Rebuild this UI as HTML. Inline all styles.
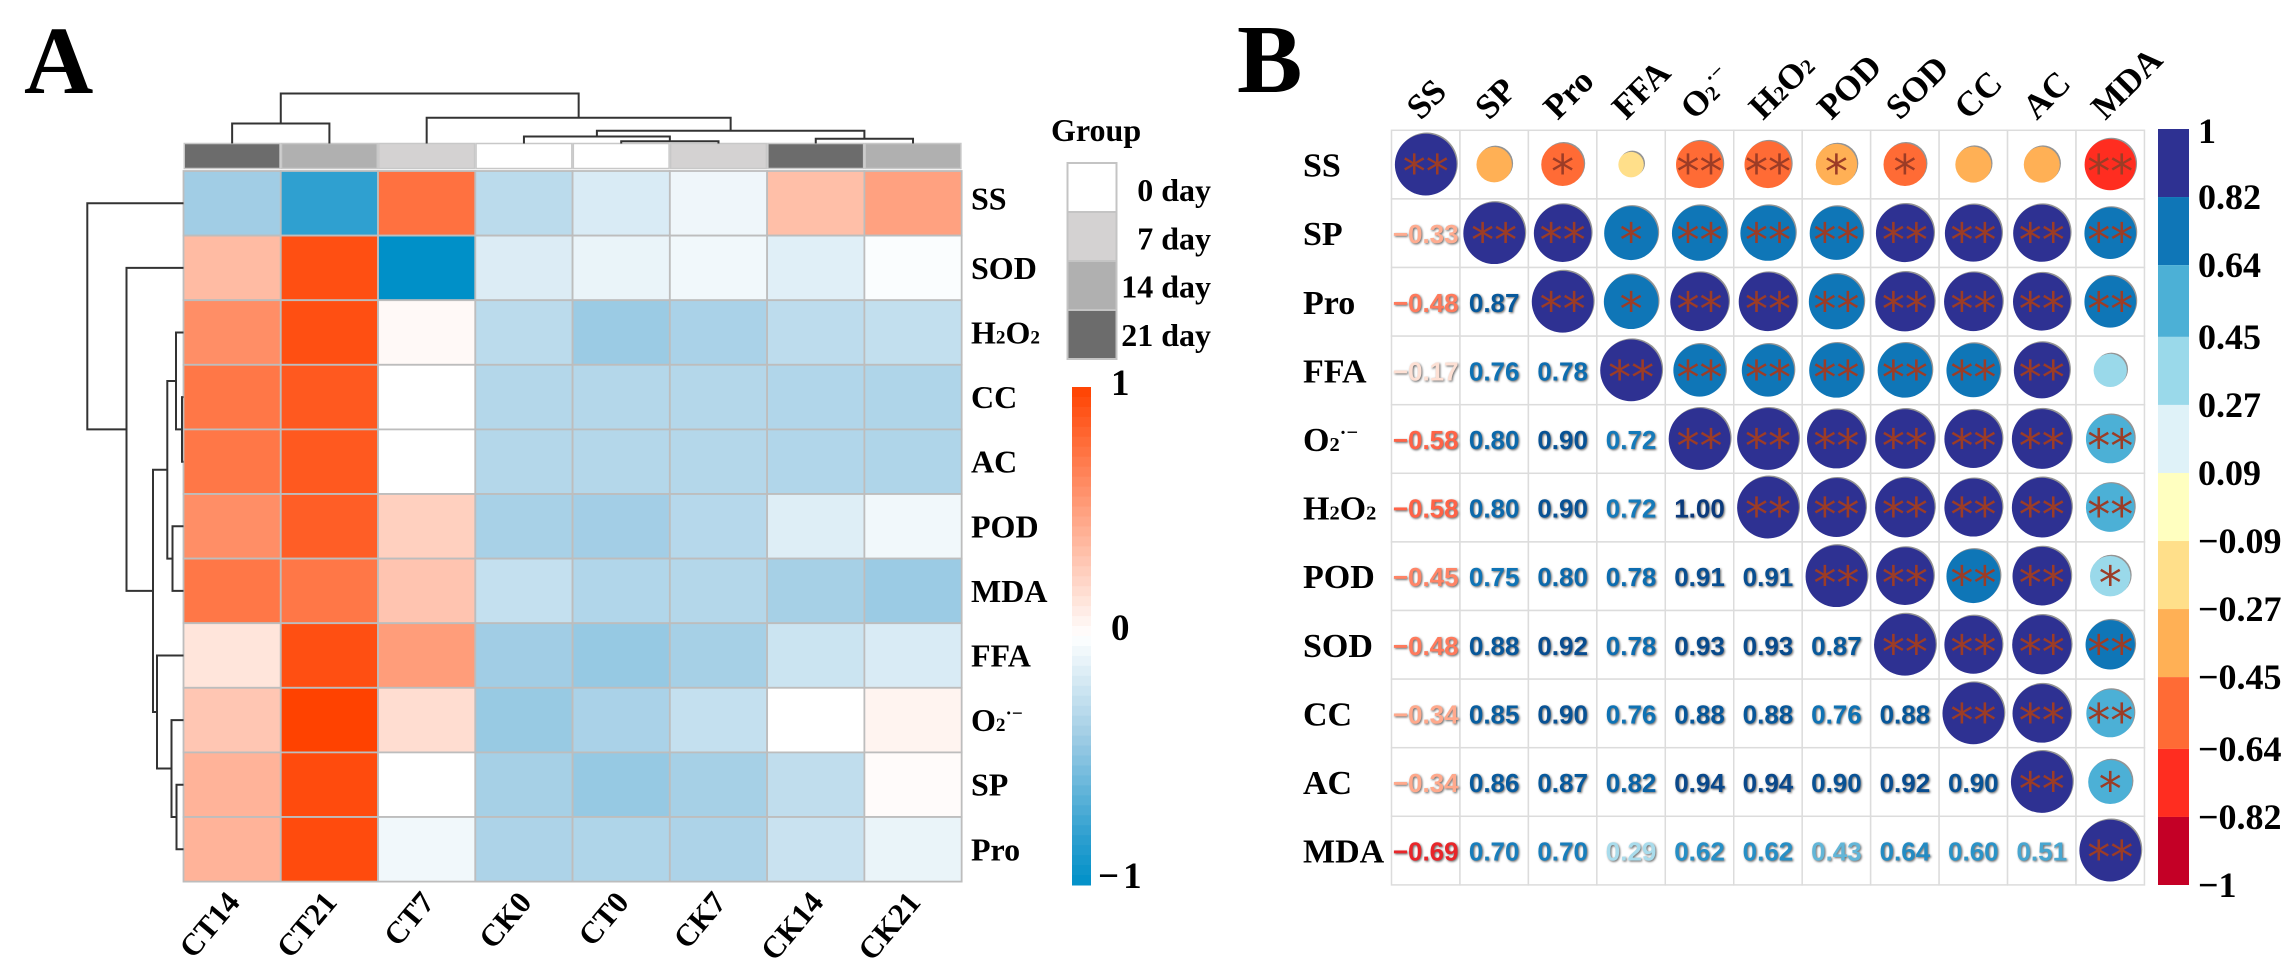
<!DOCTYPE html>
<html lang="en">
<head>
<meta charset="utf-8">
<title>Heatmap and correlation matrix</title>
<style>
html,body{margin:0;padding:0;background:#fff;}
svg{display:block;}
text{font-family:"Liberation Serif",serif;font-weight:bold;fill:#000;}
.num{font-family:"Liberation Sans",sans-serif;font-size:26px;}
.star{font-family:"DejaVu Sans",sans-serif;font-weight:normal;font-size:46px;fill:#9c3c26;}
</style>
</head>
<body>
<svg id="figure" xmlns="http://www.w3.org/2000/svg" width="2293" height="977" viewBox="0 0 2293 977">
<rect x="0" y="0" width="2293" height="977" fill="#fff"/>
<text x="24" y="93" font-size="96">A</text>
<text x="1237" y="92" font-size="98">B</text>
<text x="1051" y="141" font-size="32">Group</text>
<g id="panelA"></g>
<g id="panelB"></g>
</svg>
<script>
// ---------- Panel A data ----------
const heatCols = ['CT14','CT21','CT7','CK0','CT0','CK7','CK14','CK21'];
const heatRows = ['SS','SOD','H2O2','CC','AC','POD','MDA','FFA','O2','SP','Pro'];
const colGroups = [21,14,7,0,0,7,21,14];
const heatSS   = [-0.40,-0.80, 0.75,-0.29,-0.16,-0.07, 0.34, 0.50];
const heatSOD  = [ 0.36, 0.93,-1.00,-0.15,-0.09,-0.06,-0.13,-0.02];
const heatH2O2 = [ 0.60, 0.93, 0.03,-0.29,-0.42,-0.36,-0.28,-0.26];
const heatCC   = [ 0.72, 0.88, 0.00,-0.32,-0.32,-0.32,-0.33,-0.34];
const heatAC   = [ 0.72, 0.88, 0.00,-0.32,-0.32,-0.32,-0.33,-0.34];
const heatPOD  = [ 0.60, 0.85, 0.25,-0.37,-0.39,-0.31,-0.14,-0.06];
const heatMDA  = [ 0.72, 0.72, 0.31,-0.25,-0.33,-0.32,-0.38,-0.42];
const heatFFA  = [ 0.14, 0.93, 0.52,-0.40,-0.44,-0.38,-0.22,-0.16];
const heatO2   = [ 0.30, 1.00, 0.18,-0.43,-0.36,-0.25, 0.00, 0.06];
const heatSP   = [ 0.40, 0.95, 0.00,-0.38,-0.44,-0.38,-0.27, 0.02];
const heatPro  = [ 0.40, 0.95,-0.06,-0.35,-0.34,-0.35,-0.23,-0.09];
const heatValues = [heatSS,heatSOD,heatH2O2,heatCC,heatAC,heatPOD,heatMDA,heatFFA,heatO2,heatSP,heatPro];
const groupLevels = [0,7,14,21];
const groupShades = ['#ffffff','#d4d2d2','#b0b0b0','#6c6c6c'];
const heatBarTicks = [1,0,-1];
// dendrogram merges: [child a, child b, height]; child >=0 = leaf index, child <0 = earlier merge ~index
const colMerges = [[0,1,20],[4,5,2.3],[3,-2,7],[6,7,4.7],[-3,-4,12.7],[2,-5,25.7],[-1,-6,50]];
const rowMerges = [[3,4,1.5],[2,-1,7.5],[5,6,11],[-2,-3,16.2],[9,10,7],[8,-5,12],[7,-6,26.5],[-4,-7,30.5],[1,-8,57],[0,-9,96.2]];

// ---------- Panel B data ----------
const corrVars = ['SS','SP','Pro','FFA','O2','H2O2','POD','SOD','CC','AC','MDA'];
const corrSS   = [1];
const corrSP   = [-0.33,1];
const corrPro  = [-0.48,0.87,1];
const corrFFA  = [-0.17,0.76,0.78,1];
const corrO2   = [-0.58,0.80,0.90,0.72,1];
const corrH2O2 = [-0.58,0.80,0.90,0.72,1.00,1];
const corrPOD  = [-0.45,0.75,0.80,0.78,0.91,0.91,1];
const corrSOD  = [-0.48,0.88,0.92,0.78,0.93,0.93,0.87,1];
const corrCC   = [-0.34,0.85,0.90,0.76,0.88,0.88,0.76,0.88,1];
const corrAC   = [-0.34,0.86,0.87,0.82,0.94,0.94,0.90,0.92,0.90,1];
const corrMDA  = [-0.69,0.70,0.70,0.29,0.62,0.62,0.43,0.64,0.60,0.51,1];
const corrLower = [corrSS,corrSP,corrPro,corrFFA,corrO2,corrH2O2,corrPOD,corrSOD,corrCC,corrAC,corrMDA];
// number of significance stars, upper triangle, one array per row starting at the diagonal
const starsSS   = [2,0,1,0,2,2,1,1,0,0,2];
const starsSP   = [2,2,1,2,2,2,2,2,2,2];
const starsPro  = [2,1,2,2,2,2,2,2,2];
const starsFFA  = [2,2,2,2,2,2,2,0];
const starsO2   = [2,2,2,2,2,2,2];
const starsH2O2 = [2,2,2,2,2,2];
const starsPOD  = [2,2,2,2,1];
const starsSOD  = [2,2,2,2];
const starsCC   = [2,2,2];
const starsAC   = [2,1];
const starsMDA  = [2];
const corrStars = [starsSS,starsSP,starsPro,starsFFA,starsO2,starsH2O2,starsPOD,starsSOD,starsCC,starsAC,starsMDA];
const corrBreaks = [1,0.82,0.64,0.45,0.27,0.09,-0.09,-0.27,-0.45,-0.64,-0.82,-1];
const corrPalette = ['#2e3192','#0f76b7','#4cb0d6','#9ad9ea','#dff2f8','#ffffc0','#ffdf8a','#ffb055','#ff6b35','#ff2d20','#c40026'];

// ---------- helpers ----------
const NS = 'http://www.w3.org/2000/svg';
function mk(tag, attrs, parent){
  const el = document.createElementNS(NS, tag);
  for (const k in attrs) el.setAttribute(k, attrs[k]);
  parent.appendChild(el);
  return el;
}
function lerp(a,b,t){return a+(b-a)*t;}
function rampColor(stops, v){
  if (v<=stops[0][0]) return 'rgb('+stops[0][1].join(',')+')';
  for (let i=0;i<stops.length-1;i++){
    const a=stops[i], b=stops[i+1];
    if (v<=b[0]){
      const t=(v-a[0])/(b[0]-a[0]);
      return 'rgb('+[0,1,2].map(c=>Math.round(lerp(a[1][c],b[1][c],t))).join(',')+')';
    }
  }
  return 'rgb('+stops[stops.length-1][1].join(',')+')';
}
const heatStops = [[-1,[0,144,200]],[-0.8,[47,160,208]],[-0.4,[161,205,229]],[0,[255,255,255]],[1,[255,66,0]]];
function heatColor(v){ return rampColor(heatStops,v); }
const numStops = [[-0.69,[232,38,42]],[-0.58,[255,99,71]],[-0.48,[255,122,92]],[-0.34,[255,169,140]],[-0.17,[253,224,212]],[0,[255,255,255]],[0.29,[169,220,236]],[0.43,[98,182,216]],[0.6,[42,147,200]],[0.75,[15,116,182]],[0.87,[7,89,156]],[1,[10,58,124]]];
function numColor(v){ return rampColor(numStops,v); }
function labelSegments(el, name){
  const add = (txt, small, dy) => {
    const t = document.createElementNS(NS,'tspan');
    t.textContent = txt;
    if (small) t.setAttribute('font-size', small);
    if (dy) t.setAttribute('dy', dy);
    el.appendChild(t);
  };
  const fs = parseFloat(el.getAttribute('font-size'));
  const sm = fs*0.6;
  if (name==='H2O2'){ add('H'); add('2',sm); add('O'); add('2',sm); }
  else if (name==='O2'){ add('O'); add('2',sm); add('·−',sm,-fs*0.36); }
  else add(name);
}

// ---------- Panel A scales ----------
const panelA = document.getElementById('panelA');
const hX0 = 183.5, hCW = 97.27, hY0 = 171, hRH = 64.6;
const annTop = 143.5, annH = 25;
const hx = i => hX0 + i*hCW;
const hy = i => hY0 + i*hRH;
const colCenter = i => hx(i)+hCW/2;
const rowCenter = i => hy(i)+hRH/2;
const colHeightY = h => annTop - h;
const rowHeightX = h => hX0 - h;

// annotation bar
colGroups.forEach((g,i)=>{
  const r = mk('rect',{x:hx(i)+0.75,y:annTop,width:hCW-1.5,height:annH,fill:groupShades[groupLevels.indexOf(g)],stroke:'#c8c8c8','stroke-width':1.5},panelA);
  
  
});
// cells
heatValues.forEach((row,r)=>{
  row.forEach((v,c)=>{
    const cell = mk('rect',{x:hx(c),y:hy(r),width:hCW,height:hRH,fill:heatColor(v),stroke:'#bdbdbd','stroke-width':1.8},panelA);
    
    
  });
});
// row labels
heatRows.forEach((name,r)=>{
  const t = mk('text',{x:971,y:rowCenter(r)+(r===0?6:11),'font-size':32},panelA);
  
  
  labelSegments(t,name);
});
// col labels
heatCols.forEach((name,c)=>{
  const x = colCenter(c)+9, y = 903;
  const t = mk('text',{x:x,y:y,'font-size':31,'text-anchor':'end',transform:'rotate(-50 '+x+' '+y+')'},panelA);
  
  
  t.textContent = name;
});
// dendrograms
function drawDendro(merges, leafPos, heightPos, vertical, name){
  const nodes = [];
  const resolve = ch => ch>=0 ? {pos:leafPos(ch),h:0} : nodes[-ch-1];
  merges.forEach((m,i)=>{
    const a=resolve(m[0]), b=resolve(m[1]), h=m[2];
    const H=heightPos(h), Ha=heightPos(a.h), Hb=heightPos(b.h);
    const d = vertical
      ? 'M'+a.pos+' '+Ha+'V'+H+'H'+b.pos+'V'+Hb
      : 'M'+Ha+' '+a.pos+'H'+H+'V'+b.pos+'H'+Hb;
    const p = mk('path',{d:d,fill:'none',stroke:'#333','stroke-width':2},panelA);
    
    
    nodes.push({pos:(a.pos+b.pos)/2,h:h});
  });
}
drawDendro(colMerges,colCenter,colHeightY,true,'column-dendrogram');
drawDendro(rowMerges,rowCenter,rowHeightX,false,'row-dendrogram');
// group legend
const legX=1067.5, legW=49, legY0=163, legH=49;
groupLevels.forEach((g,i)=>{
  const r = mk('rect',{x:legX,y:legY0+i*legH,width:legW,height:legH,fill:groupShades[i],stroke:'#c4c4c4','stroke-width':2},panelA);
  
  
  const t = mk('text',{x:1211,y:legY0+i*legH+38-i*0.7,'font-size':32,'text-anchor':'end'},panelA);
  
  
  t.textContent = g+' day';
});
// heat colour bar
const barTop=387, barBot=885, barX=1072, barW=19;
const barY = v => lerp(barTop,barBot,(1-v)/2);
for (let s=0;s<50;s++){
  const v0 = 1-s*0.04, v1 = v0-0.04;
  const r = mk('rect',{x:barX,y:barY(v0),width:barW,height:barY(v1)-barY(v0)+0.5,fill:heatColor((v0+v1)/2)},panelA);
  
  
}
heatBarTicks.forEach(v=>{
  const t = mk('text',{x:v<0?1098:1111,y:barY(v)+(v===1?8:v===0?4:3),'font-size':37,'letter-spacing':v<0?4:0},panelA);
  
  
  t.textContent = v<0 ? '−'+Math.abs(v) : String(v);
});

// ---------- Panel B ----------
const panelB = document.getElementById('panelB');
const cX0=1391.5, cCW=68.45, cY0=130.3, cRH=68.6, n=corrVars.length;
const cx = i => cX0+i*cCW;
const cy = i => cY0+i*cRH;
const maxD = 61.7;
const radius = v => maxD/2*Math.sqrt(Math.abs(v));
function corrColor(v){
  for (let i=0;i<corrPalette.length;i++){
    if (v>=corrBreaks[i+1]) return corrPalette[i];
  }
  return corrPalette[corrPalette.length-1];
}
function corrAt(r,c){ return r>=c ? corrLower[r][c] : corrLower[c][r]; }
// grid
for (let r=0;r<n;r++){
  for (let c=0;c<n;c++){
    const g = mk('rect',{x:cx(c),y:cy(r),width:cCW,height:cRH,fill:'#fff',stroke:'#dcdcdc','stroke-width':1.5},panelB);
    
    
  }
}
// marks
for (let r=0;r<n;r++){
  for (let c=0;c<n;c++){
    const v = corrAt(r,c);
    const mx = cx(c)+cCW/2, my = cy(r)+cRH/2;
    if (c>=r){
      const sh = mk('circle',{cx:mx+1.2,cy:my-1.2,r:radius(v),fill:'#666',opacity:0.7},panelB);
      
      
      const ci = mk('circle',{cx:mx,cy:my,r:radius(v),fill:corrColor(v)},panelB);
      
      
      const count = corrStars[r][c-r];
      if (count>0){
        const st = mk('text',{x:mx,y:my+23.5,'text-anchor':'middle','class':'star'},panelB);
        
        
        st.textContent = '*'.repeat(count);
      }
    } else {
      const label = (v<0?'−':'')+Math.abs(v).toFixed(2);
      const t = mk('text',{x:mx,y:my+10,'text-anchor':'middle','class':'num',style:'fill:'+numColor(v)+';filter:drop-shadow(1px 1px 1px #666)'},panelB);
      
      
      t.textContent = label;
    }
  }
}
// labels
corrVars.forEach((name,i)=>{
  const t = mk('text',{x:1303,y:cy(i)+cRH/2+12,'font-size':34},panelB);
  
  
  labelSegments(t,name);
  const x = cx(i)+cCW/2-5, y = 121;
  const u = mk('text',{x:x,y:y,'font-size':35,transform:'rotate(-45 '+x+' '+y+')'},panelB);
  
  
  labelSegments(u,name);
});
// colour bar
const cbX=2158, cbW=31;
const cbY = v => 507 - v*378;
corrPalette.forEach((col,i)=>{
  const r = mk('rect',{x:cbX,y:cbY(corrBreaks[i]),width:cbW,height:cbY(corrBreaks[i+1])-cbY(corrBreaks[i]),fill:col},panelB);
  
  
});
corrBreaks.forEach(v=>{
  const label = (v<0?'−':'')+(Math.abs(v)===1?'1':Math.abs(v).toFixed(2));
  const t = mk('text',{x:2198,y:cbY(v)+(v===1?14:12),'font-size':36},panelB);
  
  
  t.textContent = label;
});
</script>
</body>
</html>
